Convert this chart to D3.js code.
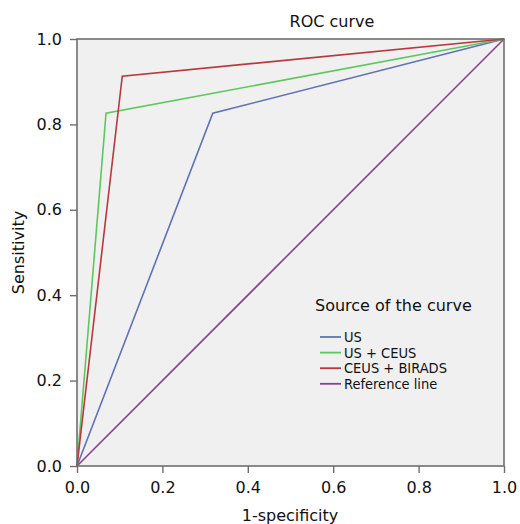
<!DOCTYPE html>
<html><head><meta charset="utf-8">
<script src="https://cdn.jsdelivr.net/npm/d3@7/dist/d3.min.js"></script>
<style>body{margin:0;background:#fff}svg{display:block}text{font-family:"DejaVu Sans",Verdana,sans-serif}</style>
</head><body><svg id="c" width="520" height="524"></svg>
<script>
const seriesNames = ["US", "US + CEUS", "CEUS + BIRADS", "Reference line"];
const seriesColors = ["#5f72b4", "#5cc85c", "#b8383f", "#8c3f92"];
const fprUS = [0, 0.318, 1];
const tprUS = [0, 0.826, 1];
const fprUSCEUS = [0, 0.068, 1];
const tprUSCEUS = [0, 0.826, 1];
const fprCEUSBIRADS = [0, 0.106, 1];
const tprCEUSBIRADS = [0, 0.913, 1];
const fprRef = [0, 1];
const tprRef = [0, 1];
const ticks = [0, 0.2, 0.4, 0.6, 0.8, 1.0];

const svg = d3.select("#c");
const L = 77, R = 504, T = 39, B = 466;
const x = d3.scaleLinear().domain([0, 1]).range([L, R]);
const y = d3.scaleLinear().domain([0, 1]).range([B, T]);

svg.append("rect").attr("x", L).attr("y", T).attr("width", R - L).attr("height", B - T).attr("fill", "#f0f0f0");

const series = [
  [fprUS, tprUS], [fprUSCEUS, tprUSCEUS], [fprCEUSBIRADS, tprCEUSBIRADS], [fprRef, tprRef]
];
const line = d3.line().x(d => x(d[0])).y(d => y(d[1]));
[3, 0, 1, 2].forEach(i => {
  const pts = series[i][0].map((v, k) => [v, series[i][1][k]]);
  svg.append("path").attr("d", line(pts)).attr("fill", "none")
    .attr("stroke", seriesColors[i]).attr("stroke-width", 1.6);
});

svg.append("rect").attr("x", L).attr("y", T).attr("width", R - L).attr("height", B - T)
  .attr("fill", "none").attr("stroke", "#6e6e6e").attr("stroke-width", 1.6);

const fmt = d3.format(".1f");
const xa = svg.append("g").attr("transform", `translate(0,${B})`)
  .call(d3.axisBottom(x).tickValues(ticks).tickFormat(fmt).tickSize(7).tickPadding(9));
const ya = svg.append("g").attr("transform", `translate(${L},0)`)
  .call(d3.axisLeft(y).tickValues(ticks).tickFormat(fmt).tickSize(7).tickPadding(8));
[xa, ya].forEach(a => {
  a.select(".domain").remove();
  a.selectAll(".tick line").attr("stroke", "#6e6e6e").attr("stroke-width", 1.4);
  a.selectAll(".tick text").attr("fill", "#111").style("font-size", "16px").style("font-family", '"DejaVu Sans",Verdana,sans-serif');
});

svg.append("text").attr("x", 332).attr("y", 27).attr("text-anchor", "middle")
  .style("font-size", "16px").attr("fill", "#111").text("ROC curve");
svg.append("text").attr("x", 290).attr("y", 521).attr("text-anchor", "middle")
  .style("font-size", "16px").attr("fill", "#111").text("1-specificity");
svg.append("text").attr("transform", `translate(24,${(T + B) / 2}) rotate(-90)`).attr("text-anchor", "middle")
  .style("font-size", "16px").attr("fill", "#111").text("Sensitivity");

svg.append("text").attr("x", 315).attr("y", 311).style("font-size", "16px").attr("fill", "#111").text("Source of the curve");
const lg = svg.append("g");
seriesNames.forEach((n, i) => {
  const cy = 337 + i * 15.6;
  lg.append("line").attr("x1", 320).attr("x2", 341).attr("y1", cy).attr("y2", cy)
    .attr("stroke", seriesColors[i]).attr("stroke-width", 1.8);
  lg.append("text").attr("x", 344).attr("y", cy + 5.2)
    .style("font-size", "14.5px").style("font-family", '"DejaVu Sans Condensed","DejaVu Sans",sans-serif')
    .attr("fill", "#111").text(n);
});
</script></body></html>
